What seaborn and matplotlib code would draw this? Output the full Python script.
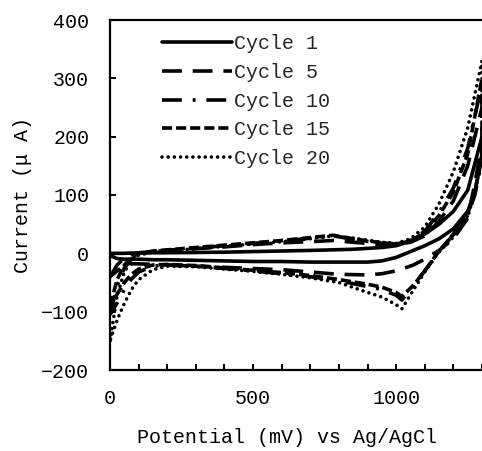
import matplotlib
matplotlib.use("Agg")
import matplotlib.pyplot as plt
from matplotlib.ticker import MultipleLocator, FixedLocator
import pandas as pd
import seaborn as sns

# potentials (mV) of the forward and reverse sweeps
FWD_MV = [0, 25, 50, 75, 100, 150, 200, 300, 400, 500, 600, 700, 780, 850,
          950, 1000, 1050, 1100, 1150, 1200, 1250, 1300]
REV_MV = [1300, 1275, 1250, 1200, 1150, 1100, 1060, 1020, 1000, 950, 900,
          800, 700, 600, 500, 400, 300, 200, 150, 100, 75, 50, 25, 0]

# currents (uA)
c1_fwd = [0, 0, 0, 0.5, 0.5, 1, 1, 1.5, 2, 3, 4, 5, 6, 7, 10, 13, 21, 33, 50, 72, 108, 200]
c1_rev = [170, 105, 72, 42, 25, 13, 5, -3, -7, -13, -15, -15, -15, -14, -14, -13, -12,
          -11, -11, -10, -10, -10, -9, -4]
c5_fwd = [-40, -20, -8, -2, 1, 3, 5, 8, 11, 15, 18, 20, 22, 19, 15, 15, 19, 30, 55, 90, 150, 250]
c5_rev = [190, 120, 60, 25, 5, -10, -20, -27, -30, -35, -37, -36, -32, -28, -26, -24,
          -22, -20, -19, -18, -18, -22, -30, -40]
c10_fwd = [-105, -55, -25, -10, -2, 3, 5, 9, 13, 17, 21, 26, 30, 24, 17, 16, 22, 38, 70,
           112, 180, 290]
c10_rev = [160, 100, 65, 32, 3, -30, -55, -80, -72, -62, -57, -47, -40, -35, -30, -26,
           -22, -20, -22, -32, -44, -62, -85, -105]
c15_fwd = [-90, -45, -20, -7, 0, 4, 6, 10, 14, 18, 22, 27, 31, 25, 18, 16, 21, 36, 65,
           105, 170, 300]
c15_rev = [165, 105, 68, 33, 4, -30, -55, -74, -67, -58, -53, -45, -38, -33, -29, -25,
           -21, -19, -20, -27, -36, -50, -70, -90]
c20_fwd = [-150, -72, -32, -12, -3, 2, 4, 8, 12, 16, 20, 25, 30, 26, 19, 17, 25, 45, 85,
           140, 215, 330]
c20_rev = [170, 105, 62, 28, 3, -32, -63, -95, -88, -75, -67, -50, -42, -36, -31, -27,
           -23, -22, -28, -45, -62, -86, -114, -150]

LABELS = ["Cycle 1", "Cycle 5", "Cycle 10", "Cycle 15", "Cycle 20"]
CURVES = [(c1_fwd, c1_rev), (c5_fwd, c5_rev), (c10_fwd, c10_rev),
          (c15_fwd, c15_rev), (c20_fwd, c20_rev)]
STYLES = ["-", (0, (5.5, 3)), (0, (5.5, 3, 0.8, 3)), (0, (2.8, 1.1)), (0, (0.01, 1.7))]

FONT = ["Liberation Mono", "Noto Sans CJK SC", "DejaVu Sans"]


def main():
    sns.set_theme(style="ticks")
    plt.rcParams["font.family"] = FONT
    plt.rcParams["axes.unicode_minus"] = True

    fig = plt.figure(figsize=(4.82, 4.51), dpi=100)
    ax = fig.add_axes([110 / 482, 81 / 451, 372 / 482, 350 / 451])

    for lab, (fwd, rev), ls in zip(LABELS, CURVES, STYLES):
        df = pd.DataFrame({"mV": FWD_MV + REV_MV, "uA": fwd + rev})
        sns.lineplot(data=df, x="mV", y="uA", sort=False, estimator=None, ax=ax,
                     color="black", linewidth=2.6, linestyle=ls, label=lab,
                     dash_capstyle="round" if lab == "Cycle 20" else "butt")

    ax.set_xlim(0, 1300)
    ax.set_ylim(-200, 400)
    ax.xaxis.set_major_locator(FixedLocator([0, 500, 1000]))
    ax.xaxis.set_minor_locator(MultipleLocator(100))
    ax.yaxis.set_major_locator(MultipleLocator(100))
    ax.tick_params(axis="both", which="both", direction="in", length=4, width=1.4,
                   color="black", labelsize=14.4, labelcolor="black")
    ax.tick_params(axis="y", pad=15)
    ax.tick_params(axis="x", pad=14)

    for side in ["left", "bottom", "top"]:
        ax.spines[side].set_linewidth(1.6)
        ax.spines[side].set_color("black")
    ax.spines["right"].set_visible(False)

    ax.set_xlabel("Potential (mV) vs Ag/AgCl", fontsize=14.4, color="black")
    ax.set_ylabel("Current (μ A)", fontsize=14.4, color="black")
    ax.xaxis.set_label_coords(0.476, -0.165)
    ax.yaxis.set_label_coords(-0.21, 0.5)

    ax.legend(loc="upper left", bbox_to_anchor=(0.14, 0.96), frameon=False,
              fontsize=14.4, handlelength=3.5, handletextpad=0.1,
              labelspacing=0.49, borderpad=0, borderaxespad=0)

    fig.savefig("out.png", dpi=100)
    plt.close(fig)


if __name__ == "__main__":
    main()
